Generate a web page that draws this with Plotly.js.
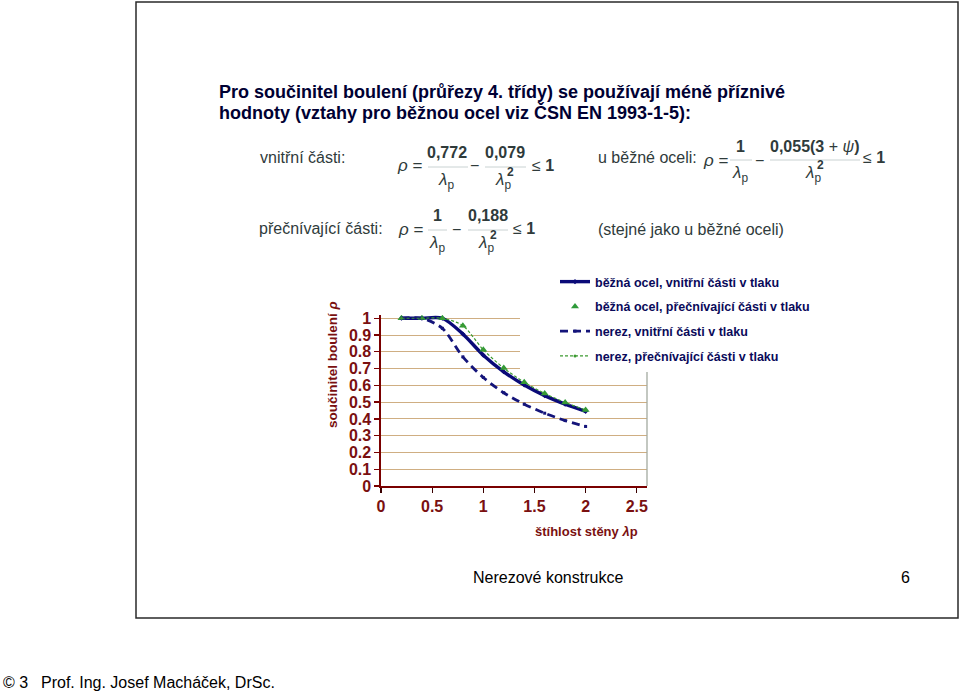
<!DOCTYPE html>
<html>
<head>
<meta charset="utf-8">
<script src="https://cdn.plot.ly/plotly-3.0.1.min.js"></script>
<style>
  html, body { margin: 0; padding: 0; background: #ffffff; }
  #chart { width: 960px; height: 692px; }
</style>
</head>
<body>
<div id="chart"></div>
<script>
// ---- data ----
const lambdaP = [0.2, 0.4, 0.6, 0.8, 1.0, 1.2, 1.4, 1.6, 1.8, 2.0];
const rhoSteelInternal     = [1, 1, 1, 0.906, 0.78, 0.681, 0.602, 0.539, 0.488, 0.445];
const rhoSteelOutstand     = [1, 1, 1, 0.956, 0.812, 0.703, 0.618, 0.552, 0.498, 0.453];
const rhoStainlessInternal = [1, 1, 0.94, 0.77, 0.647, 0.556, 0.488, 0.434, 0.39, 0.355];
const rhoStainlessOutstand = [1, 1, 1, 0.956, 0.812, 0.703, 0.618, 0.552, 0.498, 0.453];

const seriesNames = [
  'běžná ocel, vnitřní části v tlaku',
  'běžná ocel, přečnívající části v tlaku',
  'nerez, vnitřní části v tlaku',
  'nerez, přečnívající části v tlaku'
];
const xTickVals = [0, 0.5, 1, 1.5, 2, 2.5];
const xTickText = ['0', '0.5', '1', '1.5', '2', '2.5'];
const yTickVals = [0, 0.1, 0.2, 0.3, 0.4, 0.5, 0.6, 0.7, 0.8, 0.9, 1];
const yTickText = ['0', '0.1', '0.2', '0.3', '0.4', '0.5', '0.6', '0.7', '0.8', '0.9', '1'];

const titleLine1 = 'Pro součinitel boulení (průřezy 4. třídy) se používají méně příznivé';
const titleLine2 = 'hodnoty (vztahy pro běžnou ocel viz ČSN EN 1993-1-5):';
const xTitle = 'štíhlost stěny <i>λ</i>p';
const yTitle = 'součinitel boulení <i>ρ</i>';

// ---- layout helpers (pixel -> paper) ----
const W = 960, H = 692;
const FONT = 'Liberation Sans, Arial, sans-serif';
const FC = '#2f3b3b';
function px(x) { return x / W; }
function py(y) { return 1 - y / H; }
function T(text, x, y, o) {
  o = o || {};
  return {
    xref: 'paper', yref: 'paper', x: px(x), y: py(y), text: text,
    showarrow: false, xanchor: o.anchor || 'left', yanchor: o.yanchor || 'middle',
    textangle: o.angle || 0, borderpad: 0,
    font: { family: FONT, size: o.size || 16, color: o.color || FC }
  };
}
function bar(x0, x1, y) {
  return { type: 'line', xref: 'paper', yref: 'paper',
    x0: px(x0), x1: px(x1), y0: py(y), y1: py(y),
    line: { color: '#c9d2d2', width: 1 } };
}
function lam(x, y, sq) {
  const a = [T('<i>λ</i><sub>p</sub>', x, y, { anchor: 'center', size: 17 })];
  if (sq) a.push(T('<b>2</b>', x + 7, y - 9, { anchor: 'center', size: 12 }));
  return a;
}

const traces = [
  { x: lambdaP, y: rhoSteelInternal, name: seriesNames[0], legendgroup: 'a',
    mode: 'lines+markers', line: { color: '#0a0a78', width: 3.4, shape: 'spline', smoothing: 0.8 },
    marker: { symbol: 'diamond', size: 4, color: '#0a0a78' } },
  { x: lambdaP, y: rhoSteelOutstand, name: seriesNames[1], legendgroup: 'b',
    mode: 'markers', marker: { symbol: 'triangle-up', size: 7, color: '#2e9a3a' } },
  { x: lambdaP, y: rhoStainlessInternal, name: seriesNames[2], legendgroup: 'c',
    mode: 'lines+markers', line: { color: '#14147a', width: 2.8, dash: '8px,5px', shape: 'spline', smoothing: 0.8 },
    marker: { symbol: 'square', size: 3, color: '#14147a' } },
  { x: lambdaP, y: rhoStainlessOutstand, name: seriesNames[3], legendgroup: 'd',
    mode: 'lines+markers', line: { color: '#3c9a30', width: 1.2, dash: '3px,2px', shape: 'spline', smoothing: 0.8 },
    marker: { symbol: 'circle', size: 3, color: '#3c9a30' } }
];

const annotations = [
  T('<b>' + titleLine1 + '</b>', 218, 92, { size: 18, color: '#000033' }),
  T('<b>' + titleLine2 + '</b>', 218, 113, { size: 18, color: '#000033' }),

  // row 1 left: vnitřní části
  T('vnitřní části:', 259, 157),
  T('<i>ρ</i> =', 396, 166, { size: 17 }),
  T('<b>0,772</b>', 447, 152, { anchor: 'center' }),
  ...lam(446, 181, false),
  T('−', 474, 166, { anchor: 'center' }),
  T('<b>0,079</b>', 505, 152, { anchor: 'center' }),
  ...lam(503, 181, true),
  T('≤ <b>1</b>', 531, 165),

  // row 1 right: u běžné oceli
  T('u běžné oceli:', 597, 157),
  T('<i>ρ</i> =', 702, 160, { size: 17 }),
  T('<b>1</b>', 740, 146, { anchor: 'center' }),
  ...lam(740, 174, false),
  T('−', 759, 160, { anchor: 'center' }),
  T('<b>0,055(3</b> + <i>ψ</i><b>)</b>', 814, 146, { anchor: 'center' }),
  ...lam(813, 174, true),
  T('≤ <b>1</b>', 862, 158),

  // row 2
  T('přečnívající části:', 258, 228),
  T('<i>ρ</i> =', 397, 229, { size: 17 }),
  T('<b>1</b>', 437, 216, { anchor: 'center' }),
  ...lam(437, 244, false),
  T('−', 456, 229, { anchor: 'center' }),
  T('<b>0,188</b>', 488, 216, { anchor: 'center' }),
  ...lam(486, 244, true),
  T('≤ <b>1</b>', 512, 228),
  T('(stejné jako u běžné oceli)', 597, 229),

  // axis titles
  T('<b>' + yTitle + '</b>', 332, 365, { anchor: 'center', size: 13.5, color: '#7a1010', angle: -90 }),
  T('<b>' + xTitle + '</b>', 586, 531, { anchor: 'center', size: 13, color: '#7a1010' }),

  // footer
  T('Nerezové konstrukce', 472, 577, { color: '#000000' }),
  T('6', 905, 577, { anchor: 'center', color: '#000000' }),
  T('© 3', 2, 682, { color: '#000000' }),
  T('Prof. Ing. Josef Macháček, DrSc.', 40, 682, { color: '#000000' })
];

const shapes = [
  // slide frame
  { type: 'rect', xref: 'paper', yref: 'paper', x0: px(136), x1: px(958), y0: py(618), y1: py(2),
    line: { color: '#2a2a2a', width: 1.5 }, fillcolor: 'rgba(0,0,0,0)' },
  // white area behind legend hides grid
  { type: 'rect', xref: 'paper', yref: 'paper', x0: px(520), x1: px(652), y0: py(372), y1: py(310),
    line: { width: 0 }, fillcolor: '#ffffff' },
  // plot area right border (visible below legend)
  { type: 'line', xref: 'paper', yref: 'paper', x0: px(647), x1: px(647), y0: py(486), y1: py(372),
    line: { color: '#a3aaa0', width: 1.3 } },
  // fraction bars
  bar(428, 468, 167), bar(485, 526, 167),
  bar(730, 752, 160), bar(770, 860, 160),
  bar(428, 447, 230), bar(468, 508, 230)
];

const layout = {
  width: W, height: H,
  margin: { l: 0, r: 0, t: 0, b: 0 },
  paper_bgcolor: '#ffffff', plot_bgcolor: '#ffffff',
  showlegend: true,
  legend: {
    x: px(555), xanchor: 'left', y: py(267), yanchor: 'top',
    bgcolor: 'rgba(0,0,0,0)', borderwidth: 0, tracegroupgap: 5.5,
    font: { family: FONT, size: 12.5, color: '#0a0a5a', weight: 'bold' }
  },
  xaxis: {
    domain: [381 / W, 647 / W], range: [0, 2.6], automargin: false,
    tickvals: xTickVals, ticktext: xTickText,
    showgrid: false, zeroline: false,
    showline: true, linecolor: '#7a0000', linewidth: 1.6,
    ticks: 'outside', ticklen: 5, tickcolor: '#3a0000', tickwidth: 1.3,
    tickfont: { family: FONT, size: 16, color: '#7a1010', weight: 'bold' },
    fixedrange: true
  },
  yaxis: {
    domain: [206 / H, (692 - 314.9) / H], range: [0, 1.02], automargin: false,
    tickvals: yTickVals, ticktext: yTickText,
    showgrid: true, gridcolor: '#cfae82', gridwidth: 1, zeroline: false,
    showline: true, linecolor: '#7a0000', linewidth: 1.6,
    ticks: 'outside', ticklen: 5, tickcolor: '#7a0000', tickwidth: 1.3,
    tickfont: { family: FONT, size: 16, color: '#7a1010', weight: 'bold' },
    fixedrange: true
  },
  annotations: annotations,
  shapes: shapes
};

Plotly.newPlot('chart', traces, layout, { displayModeBar: false, staticPlot: true });
</script>
</body>
</html>
